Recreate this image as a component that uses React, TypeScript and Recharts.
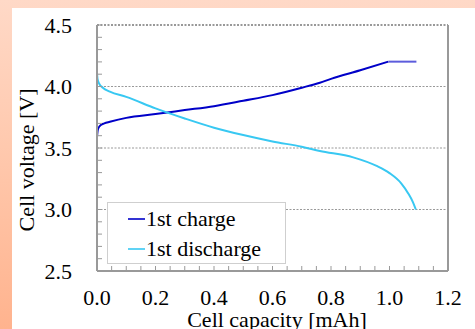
import React from 'react';
import { LineChart, Line, XAxis, YAxis, ReferenceLine, Legend } from 'recharts';

const chargeCap = [0, 0.003, 0.01, 0.025, 0.044, 0.1, 0.2, 0.3, 0.4, 0.5, 0.6, 0.7, 0.762, 0.8, 0.9, 0.996];
const chargeV = [3.59, 3.65, 3.68, 3.7, 3.713, 3.745, 3.776, 3.808, 3.84, 3.884, 3.93, 3.99, 4.031, 4.062, 4.132, 4.202];

const holdCap = [0.996, 1.092];
const holdV = [4.202, 4.202];

const dischargeCap = [0, 0.002, 0.006, 0.02, 0.044, 0.1, 0.2, 0.3, 0.4, 0.5, 0.6, 0.7, 0.762, 0.876, 0.956, 1.0, 1.04, 1.064, 1.08, 1.09];
const dischargeV = [4.11, 4.06, 4.03, 3.99, 3.958, 3.916, 3.822, 3.74, 3.665, 3.605, 3.553, 3.51, 3.476, 3.424, 3.354, 3.296, 3.213, 3.131, 3.06, 3.0];

const xTicks = [0, 0.05, 0.1, 0.15, 0.2, 0.25, 0.3, 0.35, 0.4, 0.45, 0.5, 0.55, 0.6, 0.65, 0.7, 0.75, 0.8, 0.85, 0.9, 0.95, 1.0, 1.05, 1.1, 1.15, 1.2];
const xLabels = ['0.0', '0.2', '0.4', '0.6', '0.8', '1.0', '1.2'];
const yTicks = [2.5, 2.6, 2.7, 2.8, 2.9, 3.0, 3.1, 3.2, 3.3, 3.4, 3.5, 3.6, 3.7, 3.8, 3.9, 4.0, 4.1, 4.2, 4.3, 4.4, 4.5];
const yLabels = ['2.5', '3.0', '3.5', '4.0', '4.5'];
const gridValues = [3.0, 3.5, 4.0];

const seriesNames = ['1st charge', '1st discharge'];
const seriesColors = ['#0000c8', '#38c8f2'];
const holdColor = '#5c5cdc';

const chargeData = chargeCap.map((c, i) => ({ cap: c, v: chargeV[i] }));
const holdData = holdCap.map((c, i) => ({ cap: c, v: holdV[i] }));
const dischargeData = dischargeCap.map((c, i) => ({ cap: c, v: dischargeV[i] }));

const FONT = '"Liberation Serif", Tinos, "Times New Roman", "DejaVu Serif", "Noto Serif", serif';

const fmtX = (v: number) => {
  const s = v.toFixed(1);
  return Math.abs(v * 5 - Math.round(v * 5)) < 1e-6 && xLabels.includes(s) ? s : '';
};
const fmtY = (v: number) => {
  const s = v.toFixed(1);
  return Math.abs(v * 2 - Math.round(v * 2)) < 1e-6 && yLabels.includes(s) ? s : '';
};

const LegendBox = () => (
  <div
    style={{
      width: 177,
      height: 60,
      border: '1px solid #cfcfcf',
      background: '#fff',
      fontFamily: FONT,
      fontSize: 22,
      color: '#000',
      boxSizing: 'content-box',
    }}
  >
    {seriesNames.map((n, i) => (
      <div key={n} style={{ display: 'flex', alignItems: 'center', height: 30, marginTop: i === 0 ? 1 : 0 }}>
        <div style={{ marginLeft: 20, width: 17, height: 2, background: seriesColors[i], opacity: 0.8 }} />
        <span style={{ marginLeft: 1, lineHeight: '30px' }}>{n}</span>
      </div>
    ))}
  </div>
);

export default function App() {
  return (
    <div
      style={{
        position: 'absolute',
        left: 0,
        top: 0,
        width: 475,
        height: 329,
        background: 'linear-gradient(to bottom, #ffd9c7 0%, #ffc7ab 50%, #ffb38e 100%)',
        overflow: 'hidden',
        fontFamily: FONT,
      }}
    >
      <div style={{ position: 'absolute', left: 12, top: 8, width: 463, height: 321, background: '#fff' }} />
      <div style={{ position: 'absolute', left: 0, top: 0 }}>
        <LineChart
          width={475}
          height={329}
          margin={{ top: 25, right: 27, bottom: 8, left: 37 }}
          style={{ fontFamily: FONT }}
        >
          <XAxis
            type="number"
            dataKey="cap"
            domain={[0, 1.2]}
            ticks={xTicks}
            interval={0}
            allowDuplicatedCategory={false}
            height={50}
            tickSize={-5}
            tickMargin={23}
            tickFormatter={fmtX}
            tick={{ fill: '#000', fontFamily: FONT, fontSize: 22 }}
            tickLine={{ stroke: '#999', strokeWidth: 1 }}
            axisLine={{ stroke: '#999', strokeWidth: 2 }}
          />
          <YAxis
            type="number"
            dataKey="v"
            domain={[2.5, 4.5]}
            ticks={yTicks}
            interval={0}
            width={60}
            tickSize={-5}
            tickMargin={30}
            tickFormatter={fmtY}
            tick={{ fill: '#000', fontFamily: FONT, fontSize: 22 }}
            tickLine={{ stroke: '#999', strokeWidth: 1 }}
            axisLine={{ stroke: '#999', strokeWidth: 2 }}
          />
          {gridValues.map((g) => (
            <ReferenceLine key={g} y={g} stroke="#999" strokeWidth={1} strokeDasharray="2 1.5" />
          ))}
          <ReferenceLine y={4.5} stroke="#999" strokeWidth={2} strokeDasharray="2 1.5" />
          <ReferenceLine x={1.2} stroke="#999" strokeWidth={2} />
          <Line
            data={chargeData}
            dataKey="v"
            name={seriesNames[0]}
            type="monotone"
            stroke={seriesColors[0]}
            strokeWidth={2}
            dot={false}
            isAnimationActive={false}
          />
          <Line
            data={holdData}
            dataKey="v"
            name="hold"
            legendType="none"
            type="linear"
            stroke={holdColor}
            strokeWidth={2}
            dot={false}
            isAnimationActive={false}
          />
          <Line
            data={dischargeData}
            dataKey="v"
            name={seriesNames[1]}
            type="monotone"
            stroke={seriesColors[1]}
            strokeWidth={2}
            dot={false}
            isAnimationActive={false}
          />
          <Legend
            layout="vertical"
            align="center"
            verticalAlign="middle"
            content={<LegendBox />}
            wrapperStyle={{ left: 107, top: 202, width: 'auto', height: 'auto' }}
          />
        </LineChart>
      </div>
      <svg
        width={475}
        height={329}
        style={{ position: 'absolute', left: 0, top: 0, pointerEvents: 'none', fontFamily: FONT }}
      >
        <text x={277} y={327} textAnchor="middle" fontSize={22} fill="#000">
          Cell capacity [mAh]
        </text>
        <text
          x={0}
          y={0}
          transform="translate(34,160) rotate(-90)"
          textAnchor="middle"
          fontSize={22}
          fill="#000"
        >
          Cell voltage [V]
        </text>
      </svg>
    </div>
  );
}
